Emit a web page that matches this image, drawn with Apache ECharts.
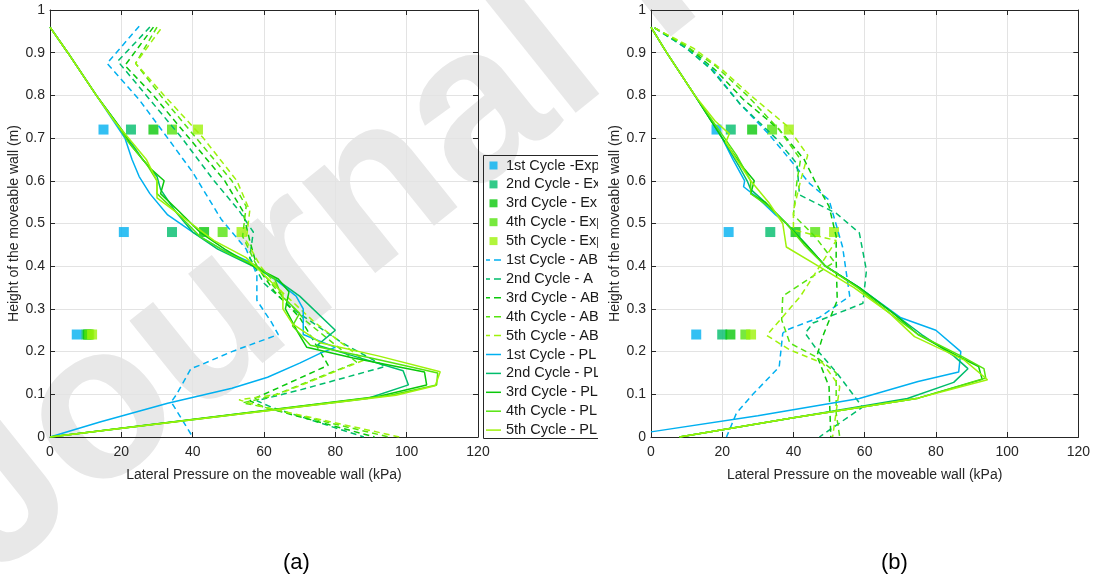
<!DOCTYPE html>
<html>
<head>
<meta charset="utf-8">
<script src="https://cdn.jsdelivr.net/npm/echarts@6/dist/echarts.min.js"></script>
<style>
  html, body { margin: 0; padding: 0; background: #fff; }
  #chart { width: 1093px; height: 582px; }
</style>
</head>
<body>
<div id="chart"></div>
<script>
var FONT = '"Liberation Sans", Arial, sans-serif';

var cycles = ['1st', '2nd', '3rd', '4th', '5th'];
var colors = ['#00b0f0', '#00bd6c', '#0ac80a', '#55e40e', '#9ef20a'];
var xTicks = [0, 20, 40, 60, 80, 100, 120];
var yTicks = [0, 0.1, 0.2, 0.3, 0.4, 0.5, 0.6, 0.7, 0.8, 0.9, 1];

// experimental points, heights and pressures per cycle
var expHeights = [0.72, 0.48, 0.24];
var expA = [[15, 20.7, 7.5], [22.7, 34.2, 10.2], [29, 43.2, 10.6], [34.2, 48.4, 11], [41.5, 53.7, 11.8]];
var expB = [[18.4, 21.8, 12.7], [22.4, 33.5, 20], [28.4, 40.6, 22.3], [34, 46.1, 26.5], [38.7, 51.4, 28.1]];

// (a) ABAQUS  [pressure, height]
var abaqusA1 = [[25,0.962],[16,0.875],[25,0.79],[33,0.70],[40,0.62],[48,0.51],[55,0.44],[58,0.38],[58,0.32],[62,0.27],[64,0.24],[51,0.2],[42,0.168],[39.5,0.16],[35.5,0.1],[34,0.082],[40,0]];
var abaqusA2 = [[28,0.96],[19,0.88],[27,0.8],[37,0.7],[46,0.6],[53,0.53],[57,0.48],[56,0.42],[60,0.36],[68,0.3],[82,0.22],[94,0.165],[70,0.11],[58,0.085],[62,0.07],[88,0]];
var abaqusA3 = [[29,0.96],[21,0.87],[29,0.8],[39,0.7],[49,0.6],[54,0.53],[56,0.46],[58,0.4],[63,0.34],[70,0.28],[78,0.168],[60,0.1],[56,0.085],[60,0.07],[91,0]];
var abaqusA4 = [[30,0.96],[24,0.875],[31,0.8],[41,0.7],[51,0.6],[55,0.54],[54,0.47],[58,0.4],[64,0.34],[72,0.27],[86,0.175],[62,0.095],[54,0.08],[60,0.07],[95,0]];
var abaqusA5 = [[31,0.955],[24,0.875],[32,0.8],[43,0.7],[52.4,0.6],[56,0.53],[55,0.46],[59,0.4],[65,0.34],[74,0.27],[88,0.18],[64,0.1],[53,0.087],[60,0.07],[98,0]];

// (a) PLAXIS
var plaxisA1 = [[0,0.96],[5,0.9],[13,0.8],[21,0.7],[23,0.65],[25,0.61],[28,0.57],[33,0.52],[40,0.48],[48,0.44],[56,0.41],[63,0.37],[69,0.33],[71,0.3],[71,0.24],[80,0.21],[76,0.197],[70,0.173],[61,0.14],[51,0.114],[33,0.079],[14,0.035],[0,0]];
var plaxisA2 = [[0,0.96],[5,0.9],[13,0.8],[21,0.71],[26,0.65],[30,0.61],[31,0.58],[35,0.53],[40,0.48],[47,0.44],[57,0.4],[65,0.36],[70,0.33],[80,0.25],[75,0.215],[85,0.19],[99,0.155],[100.5,0.122],[89,0.09],[0,0]];
var plaxisA3 = [[0,0.96],[5,0.9],[13,0.8],[20,0.72],[23,0.68],[28,0.63],[32,0.6],[31,0.57],[36,0.53],[42,0.48],[49,0.44],[57,0.4],[64,0.37],[67,0.34],[66,0.3],[69.5,0.245],[72,0.21],[85,0.185],[105,0.152],[105.6,0.122],[92,0.095],[0,0]];
var plaxisA4 = [[0,0.96],[5,0.9],[13,0.8],[19,0.73],[22,0.69],[27,0.64],[30,0.6],[30,0.57],[35,0.53],[42,0.47],[50,0.43],[58,0.4],[63,0.37],[65,0.33],[70,0.29],[68,0.26],[73,0.215],[90,0.185],[108.7,0.15],[108.4,0.122],[95,0.097],[0,0]];
var plaxisA5 = [[0,0.96],[5,0.9],[13,0.8],[18,0.74],[22,0.7],[27,0.65],[30,0.6],[30,0.56],[38,0.51],[46,0.46],[55,0.42],[60,0.38],[65.3,0.336],[65.3,0.3],[68,0.265],[76,0.22],[92,0.19],[109.4,0.153],[108,0.12],[97,0.098],[0,0]];

// (b) ABAQUS
var abaqusB1 = [[1,0.958],[10,0.91],[17.4,0.86],[25,0.78],[33,0.71],[40,0.64],[44.5,0.594],[50,0.555],[53.8,0.445],[55.8,0.33],[47.3,0.28],[37.9,0.25],[37,0.243],[36,0.164],[28.6,0.1],[24,0.056],[21.2,0]];
var abaqusB2 = [[1,0.958],[10,0.91],[17,0.86],[25,0.78],[35,0.7],[41,0.64],[41.7,0.567],[52,0.524],[58.5,0.478],[60.5,0.39],[59.5,0.313],[45.5,0.267],[43.3,0.243],[46.6,0.204],[52.2,0.15],[59.4,0.07],[47.3,0]];
var abaqusB3 = [[1,0.958],[10,0.915],[18,0.86],[26,0.79],[36,0.72],[43,0.65],[46,0.6],[50,0.54],[52,0.47],[52,0.414],[52.3,0.32],[48.2,0.235],[46.6,0.19],[50,0.118],[50.5,0]];
var abaqusB4 = [[1,0.958],[10,0.915],[18,0.87],[27,0.8],[36,0.72],[42,0.65],[41,0.6],[40,0.52],[46,0.47],[51.5,0.41],[37,0.33],[36.7,0.274],[39,0.22],[46.5,0.187],[52,0.15],[52,0.056],[53,0]];
var abaqusB5 = [[1,0.958],[12,0.91],[20,0.86],[28,0.8],[38,0.73],[44,0.66],[42,0.6],[40,0.53],[40,0.485],[52,0.46],[42,0.33],[32.5,0.238],[39,0.204],[48.2,0.173],[53,0.118],[51,0]];

// (b) PLAXIS
var plaxisB1 = [[0,0.96],[4.4,0.9],[12.3,0.8],[17,0.74],[20,0.7],[23,0.65],[26.3,0.6],[26,0.586],[30,0.56],[35,0.52],[38,0.5],[43.6,0.45],[49,0.4],[58.5,0.35],[70,0.28],[80,0.25],[87,0.2],[86.4,0.152],[75,0.13],[58.5,0.09],[30,0.05],[0,0.012]];
var plaxisB2 = [[0,0.96],[4.4,0.9],[12.3,0.8],[20,0.7],[25,0.63],[27,0.6],[28,0.58],[32,0.55],[38,0.5],[43.6,0.45],[49,0.4],[58.5,0.35],[68,0.29],[76,0.24],[85,0.19],[89,0.16],[85,0.128],[72,0.09],[40,0.045],[8,0]];
var plaxisB3 = [[0,0.96],[4.4,0.9],[12.3,0.8],[20,0.7],[26,0.63],[29,0.6],[28,0.57],[32,0.55],[38,0.5],[43.6,0.45],[49,0.4],[58.5,0.35],[68,0.29],[75,0.24],[86,0.19],[92,0.165],[93,0.135],[75,0.091],[40,0.045],[8,0]];
var plaxisB4 = [[0,0.96],[4.4,0.9],[12.3,0.8],[19,0.72],[24,0.66],[28,0.6],[28,0.57],[33,0.54],[38,0.5],[43,0.45],[49,0.4],[58,0.35],[67,0.29],[75,0.24],[87,0.19],[93.5,0.16],[94,0.138],[75,0.091],[40,0.045],[8,0]];
var plaxisB5 = [[0,0.96],[4.4,0.9],[12.3,0.8],[18,0.74],[22,0.71],[21,0.69],[24,0.65],[28,0.6],[33,0.55],[37,0.5],[38,0.445],[47,0.4],[57,0.35],[67,0.29],[74,0.235],[88,0.18],[94.5,0.134],[75,0.091],[40,0.045],[8,0]];

var abaqusA = [abaqusA1, abaqusA2, abaqusA3, abaqusA4, abaqusA5];
var plaxisA = [plaxisA1, plaxisA2, plaxisA3, plaxisA4, plaxisA5];
var abaqusB = [abaqusB1, abaqusB2, abaqusB3, abaqusB4, abaqusB5];
var plaxisB = [plaxisB1, plaxisB2, plaxisB3, plaxisB4, plaxisB5];

var expNames = cycles.map(function (c, i) { return c + ' Cycle ' + (i === 0 ? '-Exp' : '- Exp'); });
var abaqusNames = cycles.map(function (c) { return c + ' Cycle - ABAQUS'; });
var plaxisNames = cycles.map(function (c) { return c + ' Cycle - PLAXIS'; });

var axisColor = '#262626';

function xAxes(g) {
    return [{
        gridIndex: g, type: 'value', min: 0, max: 120, interval: 20,
        name: 'Lateral Pressure on the moveable wall (kPa)',
        nameLocation: 'middle', nameGap: 31,
        nameTextStyle: { fontSize: 14, color: axisColor, fontFamily: FONT },
        axisLine: { show: true, onZero: false, lineStyle: { color: axisColor } },
        axisTick: { show: true, inside: true, length: 5, lineStyle: { color: axisColor } },
        axisLabel: { color: axisColor, fontSize: 14, fontFamily: FONT, margin: 8 },
        splitLine: { show: true, lineStyle: { color: '#e3e3e3' } }
    }, {
        gridIndex: g, type: 'value', min: 0, max: 120, interval: 20, position: 'top',
        axisLine: { show: true, onZero: false, lineStyle: { color: axisColor } },
        axisTick: { show: true, inside: true, length: 5, lineStyle: { color: axisColor } },
        axisLabel: { show: false }, splitLine: { show: false }
    }];
}

function yAxes(g) {
    return [{
        gridIndex: g, type: 'value', min: 0, max: 1, interval: 0.1,
        name: 'Height of the moveable wall (m)',
        nameLocation: 'middle', nameGap: 25, nameRotate: 90,
        nameTextStyle: { fontSize: 14, color: axisColor, fontFamily: FONT },
        axisLine: { show: true, onZero: false, lineStyle: { color: axisColor } },
        axisTick: { show: true, inside: true, length: 5, lineStyle: { color: axisColor } },
        axisLabel: { color: axisColor, fontSize: 14, fontFamily: FONT, margin: 5 },
        splitLine: { show: true, lineStyle: { color: '#e3e3e3' } }
    }, {
        gridIndex: g, type: 'value', min: 0, max: 1, interval: 0.1, position: 'right',
        axisLine: { show: true, onZero: false, lineStyle: { color: axisColor } },
        axisTick: { show: true, inside: true, length: 5, lineStyle: { color: axisColor } },
        axisLabel: { show: false }, splitLine: { show: false }
    }];
}

function buildSeries(g, exp, abaqus, plaxis) {
    var out = [];
    exp.forEach(function (vals, i) {
        out.push({
            name: expNames[i], type: 'scatter', xAxisIndex: g * 2, yAxisIndex: g * 2,
            symbol: 'rect', symbolSize: 10, itemStyle: { color: colors[i] },
            data: vals.map(function (v, k) { return [v, expHeights[k]]; }), z: 3
        });
    });
    abaqus.forEach(function (d, i) {
        out.push({
            name: abaqusNames[i], type: 'line', xAxisIndex: g * 2, yAxisIndex: g * 2,
            symbol: 'none', data: d, z: 4,
            lineStyle: { color: colors[i], width: 1.5, type: [6, 4] }, itemStyle: { color: colors[i] }
        });
    });
    plaxis.forEach(function (d, i) {
        out.push({
            name: plaxisNames[i], type: 'line', xAxisIndex: g * 2, yAxisIndex: g * 2,
            symbol: 'none', data: d, z: 5,
            lineStyle: { color: colors[i], width: 1.5 }, itemStyle: { color: colors[i] }
        });
    });
    return out;
}

var squareIcon = 'path://M0,0L10,0L10,10L0,10Z';
var dashIcon = 'path://M0,0h4v1.5h-4zM8,0h7v1.5h-7z';
var solidIcon = 'path://M0,0h15v1.5h-15z';
var legendData = [];
expNames.forEach(function (n) { legendData.push({ name: n, icon: squareIcon }); });
abaqusNames.forEach(function (n) { legendData.push({ name: n, icon: dashIcon }); });
plaxisNames.forEach(function (n) { legendData.push({ name: n, icon: solidIcon }); });

var chart = echarts.init(document.getElementById('chart'), null, { renderer: 'canvas' });
var option = {
    animation: false,
    backgroundColor: '#fff',
    grid: [
        { left: 50, top: 10, width: 428, height: 427 },
        { left: 651, top: 10, width: 428, height: 427 }
    ],
    xAxis: xAxes(0).concat(xAxes(1)),
    yAxis: yAxes(0).concat(yAxes(1)),
    legend: {
        orient: 'vertical', left: 483, top: 155,
        padding: [3, 3, 3, 3],
        itemWidth: 15, itemHeight: 8, itemGap: 3.9,
        borderWidth: 0, backgroundColor: 'transparent',
        selectedMode: false,
        textStyle: { fontSize: 14.5, color: '#1a1a1a', fontFamily: FONT, lineHeight: 14,
                     width: 100, overflow: 'truncate', ellipsis: '' },
        data: legendData
    },
    graphic: [
        {
            type: 'text', z: -10, x: 22, y: 619, rotation: 0.675,
            style: { text: 'Journal Pre-proof', fontSize: 220, fontWeight: 'bold', fontFamily: FONT,
                     fill: '#e8e8e8', x: 0, y: 0, align: 'left', verticalAlign: 'bottom' }
        },
        { type: 'rect', z: 100, shape: { x: 598, y: 140, width: 10, height: 310 }, style: { fill: '#fff' } },
        {
            type: 'polyline', z: 101,
            shape: { points: [[598, 155.5], [483.5, 155.5], [483.5, 438.5], [598, 438.5]] },
            style: { stroke: axisColor, lineWidth: 1, fill: null }
        },
        { type: 'text', z: 10, left: 283, top: 552, style: { text: '(a)', fontSize: 22, fontFamily: FONT, fill: '#000' } },
        { type: 'text', z: 10, left: 881, top: 552, style: { text: '(b)', fontSize: 22, fontFamily: FONT, fill: '#000' } }
    ],
    series: buildSeries(0, expA, abaqusA, plaxisA).concat(buildSeries(1, expB, abaqusB, plaxisB))
};
chart.setOption(option);
window.addEventListener('resize', function () { chart.resize(); }, false);
</script>
</body>
</html>
